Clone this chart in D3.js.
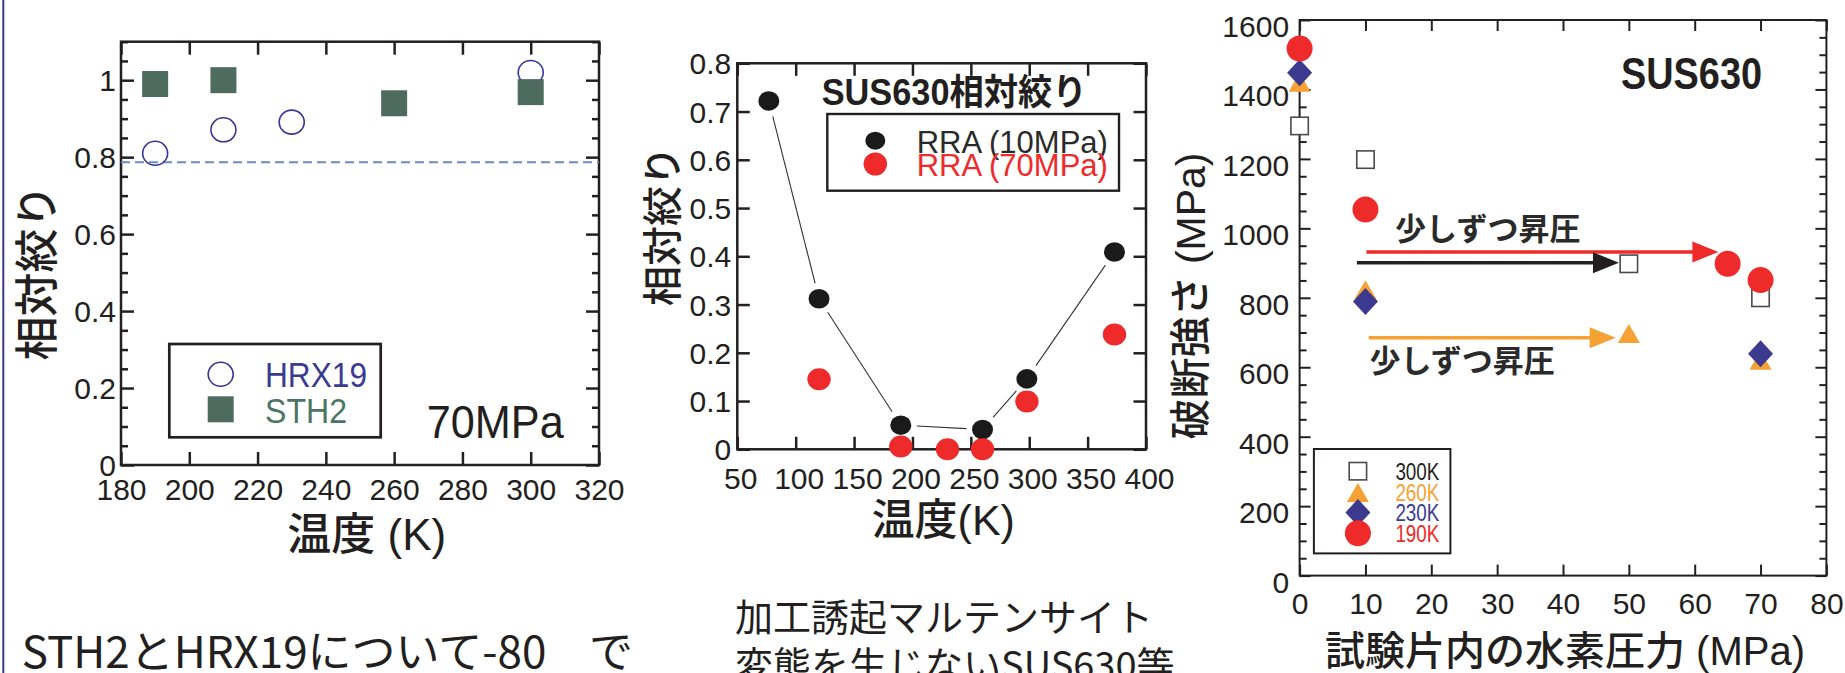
<!DOCTYPE html>
<html>
<head>
<meta charset="utf-8">
<script src="https://cdn.jsdelivr.net/npm/d3@7"></script>
<style>
  html, body { margin: 0; padding: 0; background: #fff; }
  svg { display: block; }
  text { font-family: "Liberation Sans", "Noto Sans CJK JP", sans-serif; fill: #231f20; }
  text.jp { font-family: "Noto Sans CJK JP", sans-serif; }
  text.title { font-weight: 500; }
</style>
</head>
<body>
<svg id="chart" width="1845" height="673"></svg>
<script>
// ---------- Panel 1: relative reduction of area at 70 MPa ----------
const temp1HRX = [190, 210, 230, 300];
const rraHRX19 = [0.81, 0.871, 0.891, 1.02];
const temp1STH = [190, 210, 260, 300];
const rraSTH2 = [0.99, 1.0, 0.94, 0.969];
const refLevel1 = 0.787;
const xTicks1 = [180, 200, 220, 240, 260, 280, 300, 320];
const yTicks1 = [0, 0.2, 0.4, 0.6, 0.8, 1];
const legend1 = ["HRX19", "STH2"];

// ---------- Panel 2: SUS630 relative reduction of area ----------
const temp2A = [77, 120, 190, 260, 298, 373];
const rra10MPa = [0.722, 0.312, 0.05, 0.041, 0.146, 0.409];
const temp2B = [120, 190, 230, 260, 298, 373];
const rra70MPa = [0.145, 0.006, 0, 0, 0.099, 0.238];
const xTicks2 = [50, 100, 150, 200, 250, 300, 350, 400];
const yTicks2 = [0, 0.1, 0.2, 0.3, 0.4, 0.5, 0.6, 0.7, 0.8];
const legend2 = ["RRA (10MPa)", "RRA (70MPa)"];

// ---------- Panel 3: SUS630 fracture strength vs H2 pressure ----------
const pressure300 = [0, 10, 50, 70];
const strength300 = [1295, 1198, 898, 800];
const pressure260 = [0, 10, 50, 70];
const strength260 = [1421, 823, 697, 620];
const pressure230 = [0, 10, 70];
const strength230 = [1448, 789, 639];
const pressure190 = [0, 10, 65, 70];
const strength190 = [1518, 1054, 898, 851];
const xTicks3 = [0, 10, 20, 30, 40, 50, 60, 70, 80];
const yTicks3 = [0, 200, 400, 600, 800, 1000, 1200, 1400, 1600];
const legend3 = ["300K", "260K", "230K", "190K"];
// stepwise pressurisation arrows (MPa from, MPa to, strength level)
const arrowSeries = ["190K", "300K", "260K"];
const arrowFrom = [10.15, 8.7, 10.5];
const arrowTo = [63.6, 48.5, 48.0];
const arrowLevel = [932, 901, 685];
const arrowNote = "少しずつ昇圧";

const INK = "#231f20";
const RED = "#ee2a2a";
const ORANGE = "#f6a133";
const NAVY = "#3b3a8e";
const colors3 = { "300K": INK, "260K": ORANGE, "230K": NAVY, "190K": RED };

const svg = d3.select("#chart");

// thin rule along the left edge of the sheet
svg.append("line").attr("x1", 3.3).attr("x2", 3.3).attr("y1", 0).attr("y2", 673)
  .attr("stroke", NAVY).attr("stroke-width", 2);

// Framed plot with inward ticks on all four sides
function makePanel(o) {
  const x = d3.scaleLinear().domain(o.xDomain).range([o.left, o.right]);
  const y = d3.scaleLinear().domain(o.yDomain).range([o.bottom, o.top]);
  const g = svg.append("g");
  const clean = s => {
    s.select(".domain").remove();
    s.attr("font-size", null).attr("font-family", null);
    s.selectAll("line").attr("stroke", INK).attr("stroke-width", o.stroke);
  };
  const gb = g.append("g").attr("transform", `translate(0,${o.bottom})`)
    .call(d3.axisBottom(x).tickValues(o.xTicks).tickSize(-o.tickLen).tickFormat(o.xFormat))
    .call(clean);
  gb.selectAll("text").attr("y", o.xLabelY).attr("dy", null).attr("dx", o.xLabelDx || 0)
    .style("font-size", o.fs + "px");
  g.append("g").attr("transform", `translate(0,${o.top})`)
    .call(d3.axisTop(x).tickValues(o.xTicks).tickSize(-o.tickLen).tickFormat(""))
    .call(clean);
  const gl = g.append("g").attr("transform", `translate(${o.left},0)`)
    .call(d3.axisLeft(y).tickValues(o.yTicks).tickSize(-o.tickLen).tickFormat(o.yFormat))
    .call(clean);
  gl.selectAll("text").attr("x", -o.yLabelGap).attr("dy", "0.35em").attr("y", o.yLabelDy || 0)
    .style("font-size", o.fs + "px");
  g.append("g").attr("transform", `translate(${o.right},0)`)
    .call(d3.axisRight(y).tickValues(o.yTicks).tickSize(-o.tickLen).tickFormat(""))
    .call(clean);
  if (o.yMinor) {
    g.append("g").attr("transform", `translate(${o.left},0)`)
      .call(d3.axisLeft(y).tickValues(o.yMinor).tickSize(-o.minorLen).tickFormat(""))
      .call(clean);
    g.append("g").attr("transform", `translate(${o.right},0)`)
      .call(d3.axisRight(y).tickValues(o.yMinor).tickSize(-o.minorLen).tickFormat(""))
      .call(clean);
  }
  g.append("rect").attr("x", o.left).attr("y", o.top)
    .attr("width", o.right - o.left).attr("height", o.bottom - o.top)
    .attr("fill", "none").attr("stroke", INK).attr("stroke-width", o.stroke);
  return { g, x, y };
}

const decFmt = d => String(+d.toFixed(1));

function rotatedTitle(cx, cy, size, label, cls) {
  svg.append("text").attr("class", cls || "title")
    .attr("transform", `translate(${cx + size * 0.36},${cy}) rotate(-90)`)
    .attr("text-anchor", "middle").style("font-size", size + "px").text(label);
}

// ================= Panel 1 =================
const p1 = makePanel({
  left: 121, right: 599, top: 41.7, bottom: 465,
  xDomain: [180, 320], yDomain: [0, 1.1],
  xTicks: xTicks1, yTicks: yTicks1,
  yMinor: d3.range(0, 23).filter(i => i % 4 !== 0).map(i => i * 0.05),
  tickLen: 13, minorLen: 7, stroke: 2.5, fs: 30,
  xFormat: d3.format("d"), yFormat: decFmt,
  xLabelY: 35, yLabelGap: 5
});
p1.g.append("line")
  .attr("x1", p1.x(180)).attr("x2", p1.x(320))
  .attr("y1", p1.y(refLevel1)).attr("y2", p1.y(refLevel1))
  .attr("stroke", "#6a8ac6").attr("stroke-width", 2).attr("stroke-dasharray", "9,5");
p1.g.selectAll(".hrx").data(temp1HRX).join("ellipse").attr("class", "hrx")
  .attr("cx", d => p1.x(d)).attr("cy", (d, i) => p1.y(rraHRX19[i]))
  .attr("rx", 12.5).attr("ry", 12).attr("fill", "none")
  .attr("stroke", "#35359a").attr("stroke-width", 1.6);
p1.g.selectAll(".sth").data(temp1STH).join("rect").attr("class", "sth")
  .attr("x", d => p1.x(d) - 13).attr("y", (d, i) => p1.y(rraSTH2[i]) - 13)
  .attr("width", 26).attr("height", 26).attr("fill", "#4e6b5f");
// legend
p1.g.append("rect").attr("x", 169.3).attr("y", 344).attr("width", 211.4).attr("height", 93.3)
  .attr("fill", "#fff").attr("stroke", INK).attr("stroke-width", 2.7);
p1.g.append("ellipse").attr("cx", 220.7).attr("cy", 374.3).attr("rx", 12.5).attr("ry", 12)
  .attr("fill", "none").attr("stroke", "#35359a").attr("stroke-width", 1.6);
p1.g.append("rect").attr("x", 207.7).attr("y", 396.3).attr("width", 26).attr("height", 26)
  .attr("fill", "#4e6b5f");
p1.g.append("text").attr("x", 265).attr("y", 387.3).attr("textLength", 102)
  .attr("lengthAdjust", "spacingAndGlyphs").style("font-size", "35px").style("fill", "#3a3a92")
  .text(legend1[0]);
p1.g.append("text").attr("x", 265).attr("y", 422.5).attr("textLength", 82)
  .attr("lengthAdjust", "spacingAndGlyphs").style("font-size", "35px").style("fill", "#4c7664")
  .text(legend1[1]);
p1.g.append("text").attr("x", 426.7).attr("y", 438.3).attr("textLength", 137)
  .attr("lengthAdjust", "spacingAndGlyphs").style("font-size", "46px").text("70MPa");
svg.append("text").attr("class", "title").attr("x", 366.7).attr("y", 550).attr("text-anchor", "middle")
  .style("font-size", "44px").text("温度 (K)");
rotatedTitle(37.5, 272.5, 44, "相対絞り");

// ================= Panel 2 =================
const p2 = makePanel({
  left: 737.3, right: 1146, top: 63.3, bottom: 449.3,
  xDomain: [50, 400], yDomain: [0, 0.8],
  xTicks: xTicks2, yTicks: yTicks2,
  tickLen: 12.5, minorLen: 0, stroke: 2.5, fs: 30,
  xFormat: d3.format("d"), yFormat: decFmt,
  xLabelY: 39.5, xLabelDx: 3, yLabelGap: 6
});
// guide line through the 10 MPa points, broken around each marker
const pts10 = temp2A.map((t, i) => [p2.x(t), p2.y(rra10MPa[i])]);
const gap = 16;
const segs = d3.pairs(pts10).map(([a, b]) => {
  const dx = b[0] - a[0], dy = b[1] - a[1], L = Math.hypot(dx, dy);
  return [[a[0] + dx / L * gap, a[1] + dy / L * gap], [b[0] - dx / L * gap, b[1] - dy / L * gap]];
});
p2.g.selectAll(".seg").data(segs).join("line").attr("class", "seg")
  .attr("x1", d => d[0][0]).attr("y1", d => d[0][1])
  .attr("x2", d => d[1][0]).attr("y2", d => d[1][1])
  .attr("stroke", "#333").attr("stroke-width", 1.1);
p2.g.selectAll(".r10").data(temp2A).join("ellipse").attr("class", "r10")
  .attr("cx", d => p2.x(d)).attr("cy", (d, i) => p2.y(rra10MPa[i]))
  .attr("rx", 10.5).attr("ry", 9.8).attr("fill", "#1a1a1a");
p2.g.selectAll(".r70").data(temp2B).join("ellipse").attr("class", "r70")
  .attr("cx", d => p2.x(d)).attr("cy", (d, i) => p2.y(rra70MPa[i]))
  .attr("rx", 11.7).attr("ry", 11).attr("fill", RED);
p2.g.append("text").attr("x", 821.7).attr("y", 105).attr("textLength", 265)
  .attr("lengthAdjust", "spacingAndGlyphs")
  .style("font-size", "36px").style("font-weight", "bold").text("SUS630相対絞り");
p2.g.append("rect").attr("x", 827.3).attr("y", 114).attr("width", 291.7).attr("height", 76.7)
  .attr("fill", "#fff").attr("stroke", INK).attr("stroke-width", 2.4);
p2.g.append("ellipse").attr("cx", 875.3).attr("cy", 140.7).attr("rx", 10).attr("ry", 9)
  .attr("fill", "#1a1a1a");
p2.g.append("ellipse").attr("cx", 875.3).attr("cy", 164).attr("rx", 11.7).attr("ry", 11.5)
  .attr("fill", RED);
p2.g.append("text").attr("x", 916.7).attr("y", 153.3).style("font-size", "31px")
  .style("fill", "#2a2a2a").text(legend2[0]);
p2.g.append("text").attr("x", 916.7).attr("y", 176).style("font-size", "31px")
  .style("fill", RED).text(legend2[1]);
svg.append("text").attr("class", "title").attr("x", 943.3).attr("y", 535).attr("text-anchor", "middle")
  .style("font-size", "43px").text("温度(K)");
rotatedTitle(663, 226, 40, "相対絞り");

// ================= Panel 3 =================
const p3 = makePanel({
  left: 1299.6, right: 1826.4, top: 20, bottom: 575.6,
  xDomain: [0, 80], yDomain: [0, 1600],
  xTicks: xTicks3, yTicks: yTicks3,
  yMinor: d3.range(0, 33).filter(i => i % 4 !== 0).map(i => i * 50),
  tickLen: 11, minorLen: 7, stroke: 2, fs: 30,
  xFormat: d3.format("d"), yFormat: d3.format("d"),
  xLabelY: 38.4, yLabelGap: 10.5, yLabelDy: 6
});

const triPath = "M0,-9.5L11,9.5L-11,9.5Z";
const diaPath = "M0,-13.5L12.5,0L0,13.5L-12.5,0Z";

function squareMark(sel, cx, cy) {
  sel.append("rect").attr("x", cx - 8.7).attr("y", cy - 8.7).attr("width", 17.4).attr("height", 17.4)
    .attr("fill", "#fff").attr("stroke", "#4a4a4a").attr("stroke-width", 1.6);
}

pressure300.forEach((p, i) => squareMark(p3.g, p3.x(p), p3.y(strength300[i])));
p3.g.selectAll(".t260").data(pressure260).join("path").attr("class", "t260")
  .attr("d", triPath).attr("fill", ORANGE)
  .attr("transform", (d, i) => `translate(${p3.x(d)},${p3.y(strength260[i])})`);
p3.g.selectAll(".d230").data(pressure230).join("path").attr("class", "d230")
  .attr("d", diaPath).attr("fill", NAVY)
  .attr("transform", (d, i) => `translate(${p3.x(d)},${p3.y(strength230[i])})`);
p3.g.selectAll(".c190").data(pressure190).join("circle").attr("class", "c190")
  .attr("cx", d => p3.x(d)).attr("cy", (d, i) => p3.y(strength190[i]))
  .attr("r", 13).attr("fill", RED);

// arrows
arrowSeries.forEach((s, i) => {
  const x0 = p3.x(arrowFrom[i]), x1 = p3.x(arrowTo[i]), yy = p3.y(arrowLevel[i]);
  const head = 26, half = 10.5;
  p3.g.append("line").attr("x1", x0).attr("x2", x1 - head + 2).attr("y1", yy).attr("y2", yy)
    .attr("stroke", colors3[s]).attr("stroke-width", 3.6);
  p3.g.append("path")
    .attr("d", `M${x1},${yy}L${x1 - head},${yy - half}L${x1 - head},${yy + half}Z`)
    .attr("fill", colors3[s]);
});
p3.g.append("text").attr("class", "jp").attr("x", p3.x(14.5)).attr("y", p3.y(967))
  .style("font-size", "31px").style("font-weight", "bold").style("fill", "#2a2a2a").text(arrowNote);
p3.g.append("text").attr("class", "jp").attr("x", p3.x(10.6)).attr("y", p3.y(587.4))
  .style("font-size", "31px").style("font-weight", "bold").style("fill", "#2a2a2a").text(arrowNote);

p3.g.append("text").attr("x", 1621).attr("y", 88.5).attr("textLength", 141)
  .attr("lengthAdjust", "spacingAndGlyphs")
  .style("font-size", "45px").style("font-weight", "bold").text("SUS630");

// legend
p3.g.append("rect").attr("x", 1313.9).attr("y", 449).attr("width", 136.5).attr("height", 104.4)
  .attr("fill", "#fff").attr("stroke", INK).attr("stroke-width", 2);
const lgX = 1357.9, lgY = [471.2, 492.6, 512.5, 533.2], lgBase = [480, 500.6, 520.9, 542];
squareMark(p3.g, lgX, lgY[0]);
p3.g.append("path").attr("d", triPath).attr("fill", ORANGE)
  .attr("transform", `translate(${lgX},${lgY[1]})`);
p3.g.append("path").attr("d", diaPath).attr("fill", NAVY)
  .attr("transform", `translate(${lgX},${lgY[2]})`);
p3.g.append("circle").attr("cx", lgX).attr("cy", lgY[3]).attr("r", 13).attr("fill", RED);
legend3.forEach((k, i) => {
  p3.g.append("text").attr("x", 1395.4).attr("y", lgBase[i]).attr("textLength", 44)
    .attr("lengthAdjust", "spacingAndGlyphs").style("font-size", "23px")
    .style("fill", colors3[k]).text(k);
});

svg.append("text").attr("class", "title").attr("x", 1325).attr("y", 665).style("font-size", "40px")
  .text("試験片内の水素圧力 (MPa)");
rotatedTitle(1190.5, 296, 41, "破断強さ (MPa)");

// ---------- caption text under the plots ----------
const cap1 = svg.append("text").attr("class", "jp").attr("y", 668.3).style("font-size", "44px");
cap1.append("tspan").attr("x", 21.7).text("STH2とHRX19について-80");
cap1.append("tspan").attr("x", 589).text("で");
svg.append("text").attr("class", "jp").attr("x", 735).attr("y", 631).style("font-size", "38px")
  .text("加工誘起マルテンサイト");
svg.append("text").attr("class", "jp").attr("x", 735).attr("y", 678.5).style("font-size", "38px")
  .text("変態を生じないSUS630等");
</script>
</body>
</html>
